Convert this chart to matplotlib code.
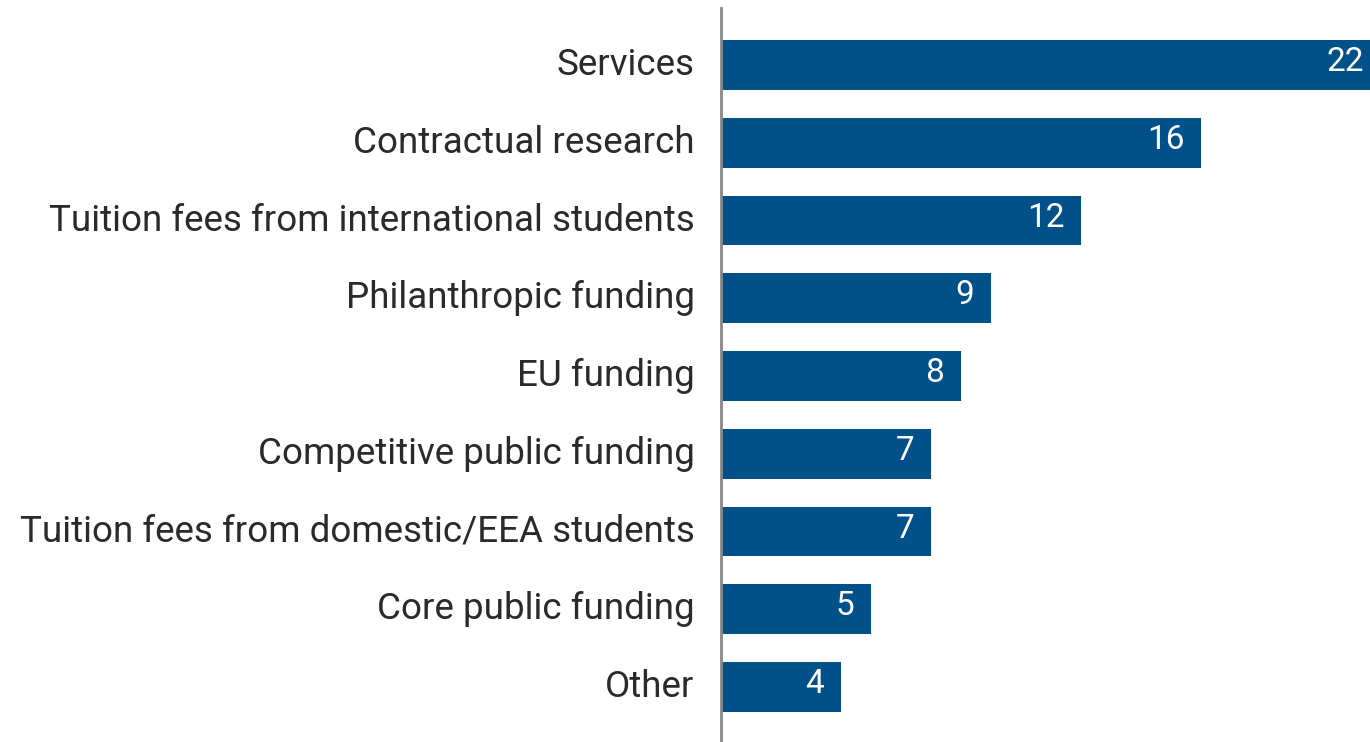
import matplotlib.pyplot as plt
import matplotlib.transforms as mtransforms

categories = ['Services', 'Contractual research', 'Tuition fees from international students',
              'Philanthropic funding', 'EU funding', 'Competitive public funding',
              'Tuition fees from domestic/EEA students', 'Core public funding', 'Other']
values = [22, 16, 12, 9, 8, 7, 7, 5, 4]

plt.rcParams['font.family'] = ['Roboto', 'DejaVu Sans']

W, H = 1370, 742
fig = plt.figure(figsize=(W / 100, H / 100), dpi=100)
x0 = 721
ax = fig.add_axes([x0 / W, 0, 1 - x0 / W, 1 - 8 / H])

bar_color = '#00508a'
y = list(range(len(categories)))
ax.barh(y, values, height=0.64, color=bar_color, zorder=2)

# 30 px per unit, the first bar runs past the right edge
ax.set_xlim(0, (W - x0) / 30)
step = 77.75
ax.set_ylim((742 - 65) / step, (8 - 65) / step)

for yi, v in zip(y, values):
    ax.annotate(str(v), (v, yi), xytext=(-12, 2), textcoords='offset points',
                ha='right', va='center', color='white', fontsize=24,
                zorder=3, annotation_clip=False)

ax.set_yticks(y)
ax.set_yticklabels(categories, fontsize=26.5, color='#2a2a2a')
ax.tick_params(axis='y', length=0, pad=19)
shift = mtransforms.ScaledTranslation(0, 4 / 100, fig.dpi_scale_trans)
for lab in ax.get_yticklabels():
    lab.set_transform(lab.get_transform() + shift)
ax.set_xticks([])
for s in ['top', 'right', 'bottom']:
    ax.spines[s].set_visible(False)
ax.spines['left'].set_color('#888888')
ax.spines['left'].set_linewidth(2)

fig.savefig('out.png', dpi=100)
